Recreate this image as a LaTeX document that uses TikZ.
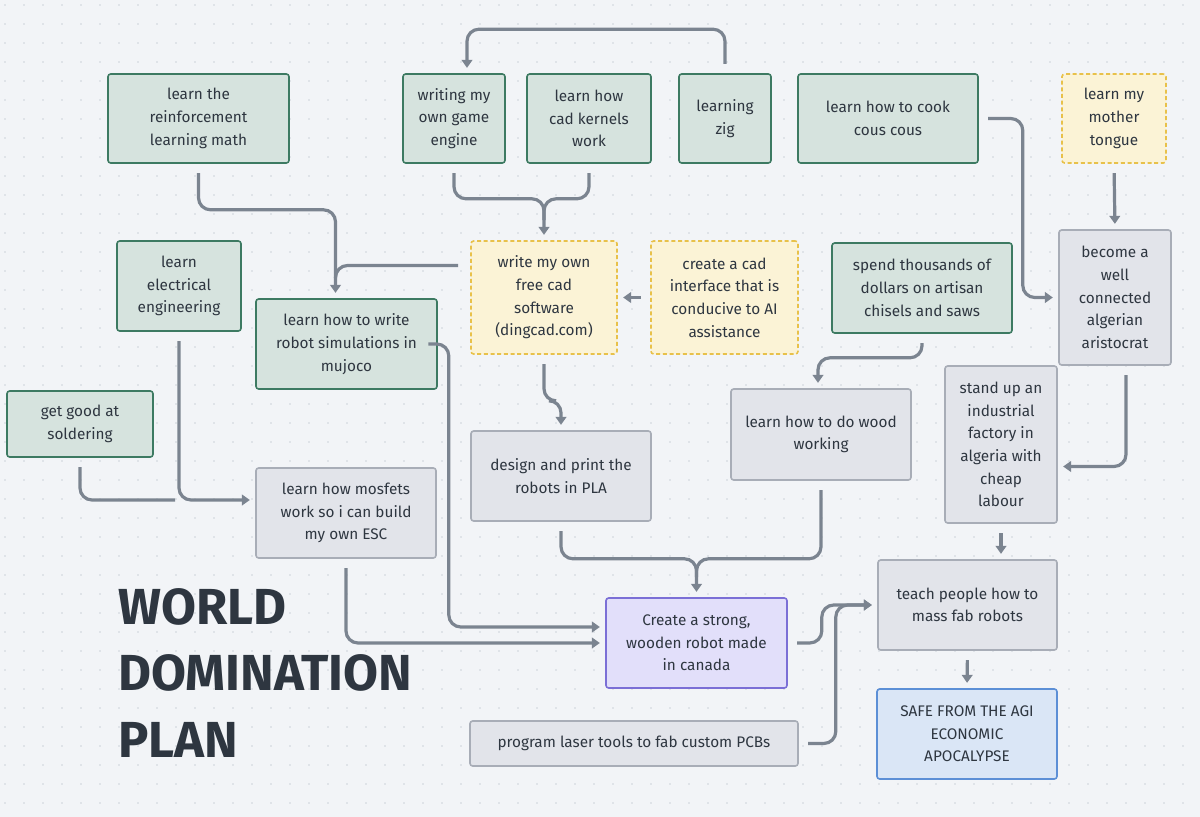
\documentclass[tikz,border=0pt]{standalone}
\usepackage{fontspec}
\setmainfont{Fira Sans}
\usetikzlibrary{calc,arrows.meta}
\definecolor{bg}{HTML}{F2F4F7}
\definecolor{dot}{HTML}{CDD2D9}
\definecolor{gF}{HTML}{D6E3DE}\definecolor{gD}{HTML}{3D7A62}
\definecolor{yF}{HTML}{FBF3D6}\definecolor{yD}{HTML}{E8C14A}
\definecolor{aF}{HTML}{E2E4EA}\definecolor{aD}{HTML}{A8ADB7}
\definecolor{pF}{HTML}{E2DFFA}\definecolor{pD}{HTML}{7B6FD6}
\definecolor{bF}{HTML}{DAE6F6}\definecolor{bD}{HTML}{5C8FD6}
\definecolor{ln}{HTML}{7B8490}
\definecolor{tx}{HTML}{2E3640}
\newcommand\bx[7]{\node[box,#6, minimum width={(#4-#2)*0.75pt}, minimum height={(#5-#3)*0.75pt}] (#1) at ({(#2+#4)/2},{(#3+#5)/2}) {#7};}
\tikzset{
 box/.style={draw, line width=1.2pt, rounded corners=2pt, align=center, inner sep=2pt, text=tx, font=\fontsize{11.5}{17}\selectfont},
 gr/.style={fill=gF, draw=gD},
 ye/.style={fill=yF, draw=yD, dashed, dash pattern=on 3pt off 2pt},
 ga/.style={fill=aF, draw=aD},
 pu/.style={fill=pF, draw=pD},
 bl/.style={fill=bF, draw=bD},
 c/.style={draw=ln, line width=2.4pt, rounded corners=9pt, -{Triangle[length=6pt,width=8pt]}, shorten >=4pt, shorten <=7pt},
 cn/.style={draw=ln, line width=2.4pt, rounded corners=9pt, shorten <=7pt}
}
\begin{document}
\begin{tikzpicture}[x=0.75pt,y=-0.75pt]
\fill[bg] (0,0) rectangle (1200,817);
\useasboundingbox (0,0) rectangle (1200,817);
\foreach \i in {0,...,63}{\foreach \j in {0,...,43}{\fill[dot] ({5+19*\i},{5+19*\j}) circle (0.6pt);}}
\bx{rl}{108}{74}{289}{163}{gr}{learn the\\reinforcement\\learning math}
\bx{eng}{403}{74}{505}{163}{gr}{writing my\\own game\\engine}
\bx{kern}{527}{74}{651}{163}{gr}{learn how\\cad kernels\\work}
\bx{zig}{679}{74}{771}{163}{gr}{learning\\zig}
\bx{cous}{798}{74}{978}{163}{gr}{learn how to cook\\cous cous}
\bx{mt}{1062}{74}{1166}{163}{ye}{learn my\\mother\\tongue}
\bx{ee}{117}{241}{241}{331}{gr}{learn\\electrical\\engineering}
\bx{wcad}{471}{241}{617}{354}{ye}{write my own\\free cad\\software\\(dingcad.com)}
\bx{cint}{651}{241}{798}{354}{ye}{create a cad\\interface that is\\conducive to AI\\assistance}
\bx{sp}{832}{243}{1012}{333}{gr}{spend thousands of\\dollars on artisan\\chisels and saws}
\bx{ar}{1059}{230}{1171}{365}{ga}{become a\\well\\connected\\algerian\\aristocrat}
\bx{mj}{256}{299}{437}{389}{gr}{learn how to write\\robot simulations in\\mujoco}
\bx{sol}{7}{391}{153}{457}{gr}{get good at\\soldering}
\bx{ww}{731}{389}{911}{480}{ga}{learn how to do wood\\working}
\bx{fac}{945}{366}{1057}{523}{ga}{stand up an\\industrial\\factory in\\algeria with\\cheap\\labour}
\bx{dp}{471}{431}{651}{521}{ga}{design and print the\\robots in PLA}
\bx{mos}{256}{468}{436}{558}{ga}{learn how mosfets\\work so i can build\\my own ESC}
\bx{cr}{606}{598}{787}{688}{pu}{Create a strong,\\wooden robot made\\in canada}
\bx{teach}{878}{560}{1057}{650}{ga}{teach people how to\\mass fab robots}
\bx{safe}{877}{689}{1057}{779}{bl}{SAFE FROM THE AGI\\ECONOMIC\\APOCALYPSE}
\bx{las}{470}{721}{798}{766}{ga}{program laser tools to fab custom PCBs}
\node[anchor=north west, align=left, text=tx, inner sep=0pt, font=\fontsize{38}{50}\selectfont\bfseries] (title) at (118,588) {WORLD\\DOMINATION\\PLAN};
% connectors
\draw[c] (zig.north) -- ++(0,-44) -| ($(eng.north)+(13,0)$);
\draw[cn] (eng.south) -- ++(0,35) -| ($(wcad.north)+(0,-20)$);
\draw[c] (kern.south) -- ++(0,35) -| (wcad.north);
\draw[c] (rl.south) -- ++(0,46) -| ($(mj.north)+(-11,0)$);
\draw[cn, shorten <=9pt] ($(wcad.west)+(0,-32)$) -| ($(mj.north)+(-11,-20)$);
\draw[c] (cint.west) -- (wcad.east);
\draw[c] (wcad.south) -- ++(0,46) -| (dp.north);
\draw[c] (mt.south) -- (ar.north);
\draw[c] (cous.east) -| ++(44,90) |- (ar.west);
\draw[c] (sp.south) -- ++(0,24) -| ($(ww.north)+(-3,0)$);
\draw[c] ($(ar.south)+(11,0)$) |- ($(fac.east)+(0,22)$);
\draw[c] (fac.south) -- ($(teach.north)+(33.5,0)$);
\draw[c] (teach.south) -- (safe.north);
\draw[c] (ee.south) |- ($(mos.west)+(0,-13)$);
\draw[cn] (sol.south) |- ($(mos.west)+(-80,-13)$);
\draw[c] (mos.south) |- (cr.west);
\draw[c] (mj.east) -| ++(11,100) |- ($(cr.west)+(0,-16)$);
\draw[c] (dp.south) -- ++(0,37) -| (cr.north);
\draw[cn] (ww.south) -- ++(0,78) -| ($(cr.north)+(0,-20)$);
\draw[c] (cr.east) -- ++(34,0) |- (teach.west);
\draw[c] (las.east) -- ++(37,0) |- (teach.west);
\end{tikzpicture}
\end{document}
